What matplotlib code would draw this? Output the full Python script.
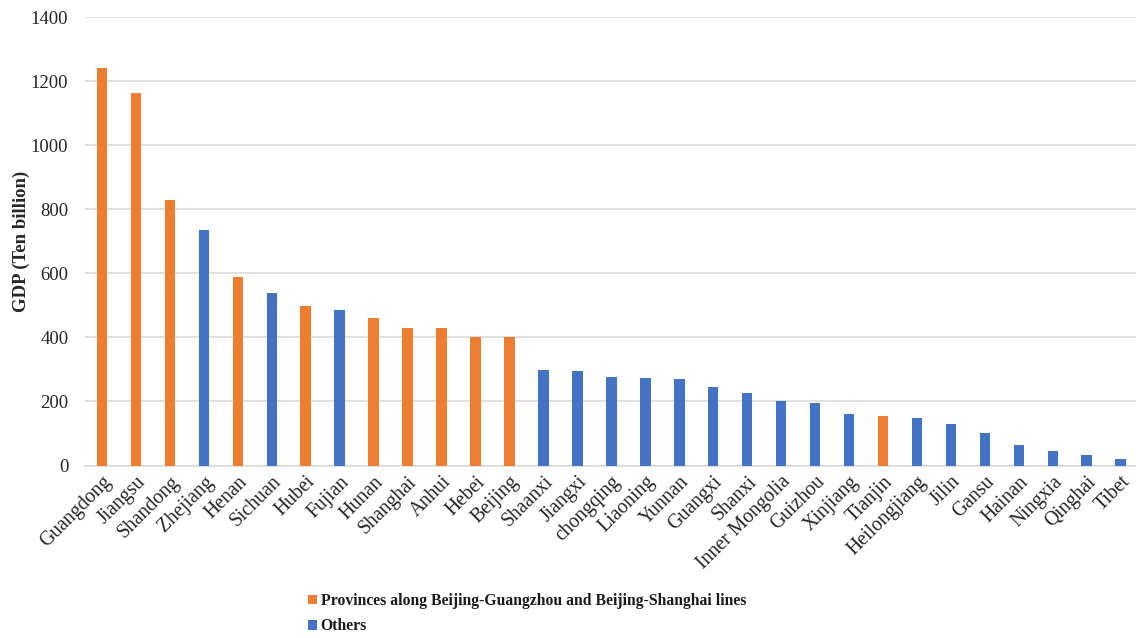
import matplotlib
matplotlib.use("Agg")
import matplotlib.pyplot as plt
from matplotlib.patches import Patch

provinces = ["Guangdong", "Jiangsu", "Shandong", "Zhejiang", "Henan", "Sichuan", "Hubei",
             "Fujian", "Hunan", "Shanghai", "Anhui", "Hebei", "Beijing", "Shaanxi", "Jiangxi",
             "chongqing", "Liaoning", "Yunnan", "Guangxi", "Shanxi", "Inner Mongolia", "Guizhou",
             "Xinjiang", "Tianjin", "Heilongjiang", "Jilin", "Gansu", "Hainan", "Ningxia",
             "Qinghai", "Tibet"]
gdp = [1243, 1162, 830, 736, 588, 538, 499, 486, 460, 430, 428, 401, 401, 297, 294,
       278, 273, 269, 246, 225, 203, 196, 160, 156, 148, 131, 103, 64, 45, 32, 20]
along_line = [1, 1, 1, 0, 1, 0, 1, 0, 1, 1, 1, 1, 1, 0, 0,
              0, 0, 0, 0, 0, 0, 0, 0, 1, 0, 0, 0, 0, 0, 0, 0]
legend_labels = ["Provinces along Beijing-Guangzhou and Beijing-Shanghai lines", "Others"]
yticks = [0, 200, 400, 600, 800, 1000, 1200, 1400]

ORANGE = "#ED7D31"
BLUE = "#4472C4"

plt.rcParams['font.family'] = ['Liberation Serif', 'DejaVu Serif']

fig = plt.figure(figsize=(11.36, 6.38), dpi=100)
W, H = 1136, 638
ax = fig.add_axes([85 / W, 1 - 465.5 / H, (1136 - 85) / W, (465.5 - 17.3) / H])

colors = [ORANGE if a else BLUE for a in along_line]
x = list(range(len(provinces)))
ax.bar(x, gdp, width=0.31, color=colors, zorder=3)

ax.set_ylim(0, 1400)
ax.set_xlim(-0.5, len(provinces) - 0.55)
ax.set_yticks(yticks)
ax.set_yticklabels([str(v) for v in yticks], fontsize=13.5, color="#262626")
ax.yaxis.grid(True, color="#d9d9d9", linewidth=1.1, zorder=0)
ax.set_axisbelow(True)
for s in ["top", "right", "left"]:
    ax.spines[s].set_visible(False)
ax.spines["bottom"].set_color("#d9d9d9")
ax.spines["bottom"].set_linewidth(1.1)
ax.tick_params(axis="both", length=0)
ax.tick_params(axis="y", pad=12)
ax.tick_params(axis="x", pad=5)
ax.set_xticks(x)
ax.set_xticklabels(provinces, rotation=45, ha="right", rotation_mode="anchor",
                   fontsize=14.2, color="#262626")

ax.set_ylabel("GDP (Ten billion)", fontsize=13.5, fontweight="bold", color="#262626")
ax.yaxis.set_label_coords(-55 / (1136 - 85), 0.5)

handles = [Patch(facecolor=ORANGE, edgecolor="none"), Patch(facecolor=BLUE, edgecolor="none")]
leg = fig.legend(handles, legend_labels, loc="upper left",
                 bbox_to_anchor=(308 / W, 1 - 593 / H), frameon=False,
                 handlelength=0.55, handleheight=0.55, handletextpad=0.25,
                 labelspacing=0.6, borderaxespad=0, borderpad=0,
                 prop={"size": 11.3, "weight": "bold"})
for t in leg.get_texts():
    t.set_color("#1a1a1a")

fig.savefig("out.png", dpi=100)
